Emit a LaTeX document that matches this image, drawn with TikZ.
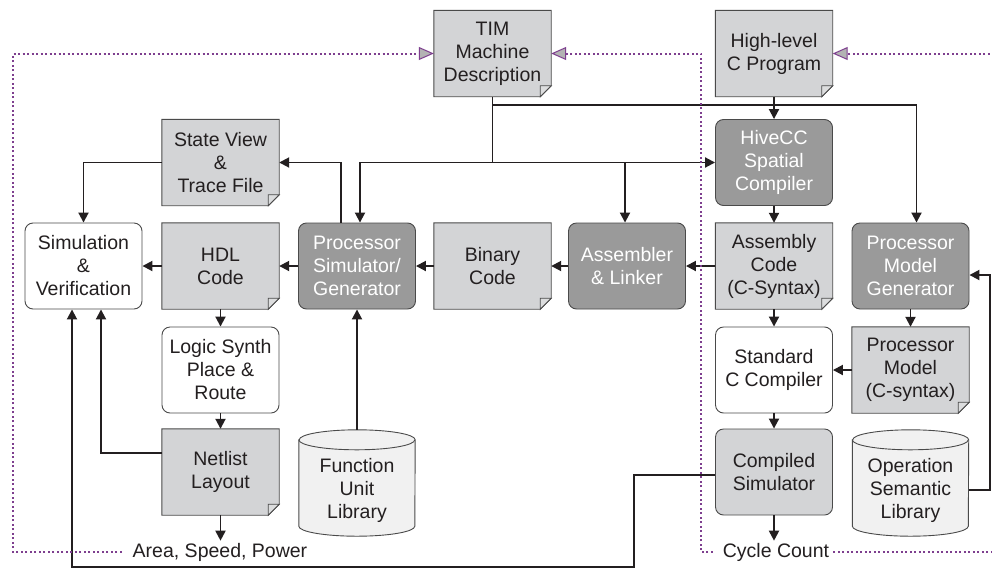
\documentclass[tikz,border=0pt]{standalone}
\usepackage{fontspec}
\setmainfont{Liberation Sans}
\usetikzlibrary{arrows.meta,calc}
\pgfdeclarelayer{background}
\pgfsetlayers{background,main}

\definecolor{docgray}{HTML}{D3D4D6}
\definecolor{boxdark}{HTML}{9A9A9A}
\definecolor{cylfill}{HTML}{F1F1F1}
\definecolor{edgegray}{HTML}{4A4A4A}
\definecolor{ink}{HTML}{231F20}
\definecolor{loopcol}{HTML}{7E3F8F}
\definecolor{tipfill}{HTML}{B3B3B3}

\tikzset{
  box/.style={minimum width=117pt, minimum height=86pt, inner sep=0pt,
    align=center, text=ink},
  doc/.style={box},
  tool/.style={box, draw=edgegray, line width=0.9pt, rounded corners=8pt,
    fill=boxdark, text=white},
  plain/.style={box, draw=edgegray, line width=0.9pt, rounded corners=8pt,
    fill=white},
  lightbox/.style={box, draw=edgegray, line width=0.9pt, rounded corners=8pt,
    fill=docgray},
  db/.style={minimum width=116pt, minimum height=92pt, inner sep=0pt,
    align=center, text=ink},
  outtext/.style={inner xsep=11pt, inner ysep=2pt, text=ink},
  outline/.style={draw=edgegray, line width=0.9pt},
  arr/.style={draw=ink, line width=1.9pt, -{Triangle[length=10pt,width=10pt]}},
  loopline/.style={draw=loopcol, line width=2pt, dash pattern=on 2pt off 2.5pt},
  looptip/.style={loopline,
    -{Triangle[open,fill=tipfill,length=15pt,width=13pt,line width=1pt]}},
  every node/.append style={font=\fontsize{19.5}{23}\selectfont}
}

% document symbol with a folded lower right corner, drawn behind a node
\newcommand\docshape[1]{%
  \begin{pgfonlayer}{background}
    \path[outline, fill=docgray] (#1.north west) -- (#1.north east)
      -- ([yshift=11pt]#1.south east) -- ([xshift=-11pt]#1.south east)
      -- (#1.south west) -- cycle;
    \path[outline, fill=docgray!80!white] ([yshift=11pt]#1.south east)
      -- ([xshift=-11pt,yshift=11pt]#1.south east)
      -- ([xshift=-11pt]#1.south east) -- cycle;
  \end{pgfonlayer}}

% database cylinder around a text node; the top ellipse sits above the node
\newcommand\cylshape[1]{%
  \begin{pgfonlayer}{background}
    \path[outline, fill=cylfill] ([yshift=4pt]#1.north west)
      -- ([yshift=10pt]#1.south west)
      arc[start angle=180, end angle=360, x radius=58pt, y radius=10pt]
      -- ([yshift=4pt]#1.north east)
      arc[start angle=0, end angle=180, x radius=58pt, y radius=10pt]
      -- cycle;
    \path[outline] ([yshift=4pt]#1.north west)
      arc[start angle=180, end angle=360, x radius=58pt, y radius=10pt];
  \end{pgfonlayer}
  \coordinate (#1-top) at ([yshift=14pt]#1.north);}

\begin{document}
\begin{tikzpicture}[x=1pt, y=-1pt]
\useasboundingbox (0,0) rectangle (992,568);
\begin{pgfonlayer}{background}
  \fill[white] (0,0) rectangle (992,568);
\end{pgfonlayer}

% ---- blocks ----
\node[doc] (tim) at (492.5,53.5) {TIM\\Machine\\Description};
\node[doc] (cprog) at (774,53.5) {High-level\\C Program};
\node[tool] (hive) at (774,162.5) {HiveCC\\Spatial\\Compiler};
\node[doc] (sv) at (220.5,162.5) {State View\\\&\\Trace File};
\node[plain] (sim) at (83.5,266) {Simulation\\\&\\Verification};
\node[doc] (hdl) at (220.5,266) {HDL\\Code};
\node[tool] (psim) at (357,266) {Processor\\Simulator/\\Generator};
\node[doc] (bin) at (492.5,266) {Binary\\Code};
\node[tool] (asm) at (627,266) {Assembler\\\& Linker};
\node[doc] (asmc) at (774,266) {Assembly\\Code\\(C-Syntax)};
\node[tool] (pmg) at (910.5,266) {Processor\\Model\\Generator};
\node[plain] (lsyn) at (220.5,370) {Logic Synth\\Place \&\\Route};
\node[plain] (stdc) at (774,370) {Standard\\C Compiler};
\node[doc] (pm) at (910.5,370) {Processor\\Model\\(C-syntax)};
\node[doc] (net) at (220.5,472) {Netlist\\Layout};
\node[db] (ful) at (357,490) {Function\\Unit\\Library};
\node[lightbox] (csim) at (774,472) {Compiled\\Simulator};
\node[db] (osl) at (910.5,490) {Operation\\Semantic\\Library};
\node[outtext, anchor=base] (asp) at (220,557) {Area, Speed, Power};
\node[outtext, anchor=base, inner xsep=4pt] (cyc) at (776,557) {Cycle Count};

\foreach \d in {tim,cprog,sv,hdl,bin,asmc,pm,net} {\docshape{\d}}
\cylshape{ful}
\cylshape{osl}

% ---- data flow ----
\draw[arr] (cprog.south) -- (hive.north);
\draw[arr] (tim.south) |- (hive.west);
\draw[arr] (tim.south |- hive.west) -| ([xshift=3pt]psim.north);
\draw[arr] ([xshift=-2pt]asm.north |- hive.west) -- ([xshift=-2pt]asm.north);
\draw[arr] (tim.south |- 0,105) -| ([xshift=6pt]pmg.north);
\draw[arr] ([xshift=-16pt]psim.north) |- (sv.east);
\draw[arr] (sv.west) -| (sim.north);
\draw[arr] (hdl.west) -- (sim.east);
\draw[arr] (psim.west) -- (hdl.east);
\draw[arr] (bin.west) -- (psim.east);
\draw[arr] (asm.west) -- (bin.east);
\draw[arr] (asmc.west) -- (asm.east);
\draw[arr] (hive.south) -- (asmc.north);
\draw[arr] (asmc.south) -- (stdc.north);
\draw[arr] (pmg.south) -- (pm.north);
\draw[arr] (pm.west) -- (stdc.east);
\draw[arr] (stdc.south) -- (csim.north);
\draw[arr] (csim.south) -- (csim.south |- cyc.north);
\draw[arr] (hdl.south) -- (lsyn.north);
\draw[arr] (lsyn.south) -- (net.north);
\draw[arr] (net.south) -- (net.south |- asp.north);
\draw[arr] (ful-top) -- (psim.south);
\draw[arr] (osl.east) -- ++(21,0) |- ([yshift=-9pt]pmg.east);
\draw[arr] ([yshift=19pt]net.west) -| ([xshift=17.5pt]sim.south);
\draw[arr] ([yshift=-3pt]csim.west) -| (634,567) -| ([xshift=-11.5pt]sim.south);

% ---- feedback loops ----
\draw[looptip] (asp.west) -| (13,53.5) -- (tim.west);
\draw[looptip] ([xshift=-6pt]cyc.west) -| (701,53.5) -- (tim.east);
\draw[looptip] (cyc.east) -| (1002,53.5) -- (cprog.east);
\end{tikzpicture}
\end{document}
